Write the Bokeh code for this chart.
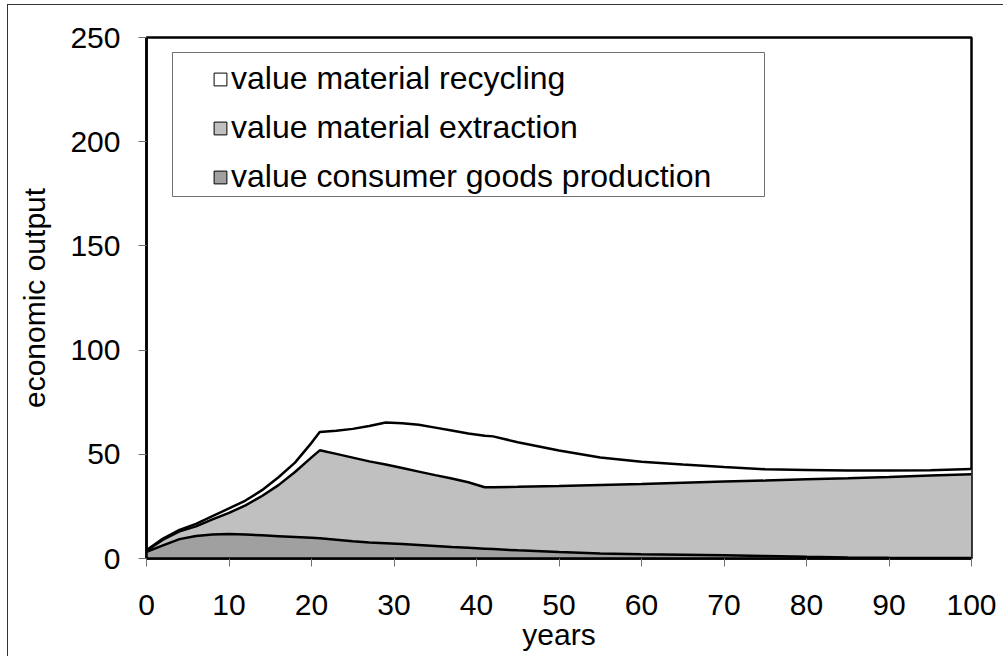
import numpy as np
from bokeh.plotting import figure
from bokeh.models import (ColumnDataSource, Range1d, SingleIntervalTicker, Legend,
                          LegendItem, BoxAnnotation)
from bokeh.embed import file_html
from bokeh.resources import INLINE

# ---------------- data ----------------
years = [0, 2, 4, 6, 8, 10, 12, 14, 16, 18, 20, 21, 23, 25, 27, 29, 31, 33, 35, 37,
         39, 41, 42, 45, 50, 55, 60, 65, 70, 75, 80, 85, 90, 95, 100]

consumer_goods = [3.2, 6.3, 9.3, 10.8, 11.5, 11.7, 11.5, 11.1, 10.7, 10.3, 9.9, 9.7, 9.0, 8.3,
                  7.7, 7.3, 6.9, 6.5, 6.0, 5.5, 5.1, 4.7, 4.5, 3.9, 3.1, 2.4, 2.0, 1.8, 1.5,
                  1.2, 0.8, 0.5, 0.3, 0.2, 0.2]

extraction = [0.6, 2.7, 3.7, 4.6, 7.3, 10.2, 14.0, 18.9, 24.5, 31.2, 38.6, 42.2, 41.2, 40.1,
              38.9, 37.8, 36.5, 35.2, 34.0, 32.9, 31.5, 29.5, 29.7, 30.5, 31.7, 32.9, 33.8,
              34.6, 35.4, 36.2, 37.2, 38.0, 38.8, 39.6, 40.2]

recycling = [0.2, 0.6, 0.7, 1.2, 1.5, 2.1, 2.3, 2.8, 3.8, 4.5, 7.0, 8.8, 11.1, 13.8, 17.0,
             20.2, 21.5, 22.5, 22.8, 23.0, 23.4, 24.7, 24.4, 21.4, 17.0, 13.2, 10.6, 8.7,
             7.0, 5.4, 4.5, 3.7, 3.1, 2.5, 2.6]

series_labels = ["value material recycling", "value material extraction",
                 "value consumer goods production"]
x_ticks_interval = 10
y_ticks_interval = 50

FONT = "Liberation Sans"
COL_CONS = "#a0a0a0"
COL_EXTR = "#c0c0c0"
COL_RECY = "#ffffff"

src = ColumnDataSource(dict(year=years, cons=consumer_goods, extr=extraction, recy=recycling))

# canvas placed at page (8, 5) through the styles below
p = figure(frame_width=825, frame_height=521,
           min_border_left=138, min_border_right=32, min_border_top=32, min_border_bottom=98,
           x_range=Range1d(0, 100), y_range=Range1d(0, 250),
           output_backend="svg", toolbar_location=None,
           background_fill_color="white", border_fill_color="white")
p.styles = {"margin-left": "7px", "margin-top": "4px",
            "border-left": "1px solid #333333", "border-top": "1px solid #333333"}

stackers = ["cons", "extr", "recy"]
p.varea_stack(stackers, x="year", source=src, fill_color=[COL_CONS, COL_EXTR, COL_RECY])
p.vline_stack(stackers, x="year", source=src, line_color="black", line_width=2.5)

# legend box (canvas coordinates)
box = BoxAnnotation(left=163, right=755, top=46, bottom=190,
                    left_units="canvas", right_units="canvas",
                    top_units="canvas", bottom_units="canvas",
                    fill_color="white", fill_alpha=1, line_color="#707070",
                    line_width=1, line_alpha=1)
p.add_layout(box)

# legend key renderers (no visible data, only used for the legend swatches)
nan_src = ColumnDataSource(dict(l=[np.nan], r=[np.nan], t=[np.nan], b=[np.nan]))
items = []
for lab, col in zip(series_labels, [COL_RECY, COL_EXTR, COL_CONS]):
    r = p.quad(left="l", right="r", top="t", bottom="b", source=nan_src,
               fill_color=col, line_color="black", line_width=1)
    items.append(LegendItem(label=lab, renderers=[r]))

legend = Legend(items=items, location=(66, 363), padding=0, spacing=12, margin=0,
                glyph_width=16, glyph_height=16, label_standoff=3,
                label_text_font=FONT, label_text_font_size="32px",
                label_text_color="black",
                border_line_alpha=0, background_fill_alpha=0)
p.add_layout(legend)

# axes
p.xaxis.ticker = SingleIntervalTicker(interval=x_ticks_interval, num_minor_ticks=0)
p.yaxis.ticker = SingleIntervalTicker(interval=y_ticks_interval, num_minor_ticks=0)
p.xaxis.axis_label = "years"
p.yaxis.axis_label = "economic output"
for ax in (p.xaxis[0], p.yaxis[0]):
    ax.axis_line_color = "black"
    ax.axis_line_width = 2.5
    ax.major_tick_out = 8
    ax.major_tick_in = 0
    ax.major_tick_line_color = "#707070"
    ax.major_tick_line_width = 1
    ax.minor_tick_line_color = None
    ax.major_label_text_font = FONT
    ax.major_label_text_font_size = "30px"
    ax.major_label_text_color = "black"
    ax.axis_label_text_font = FONT
    ax.axis_label_text_font_size = "30px"
    ax.axis_label_text_font_style = "normal"
    ax.axis_label_text_color = "black"
p.xaxis.major_label_standoff = 28
p.xaxis.axis_label_standoff = 0
p.yaxis.major_label_standoff = 18
p.yaxis.axis_label_standoff = 16

p.xgrid.visible = False
p.ygrid.visible = False
p.outline_line_color = "black"
p.outline_line_width = 2.5
p.outline_line_alpha = 1

open("out.html", "w").write(file_html(p, INLINE))
